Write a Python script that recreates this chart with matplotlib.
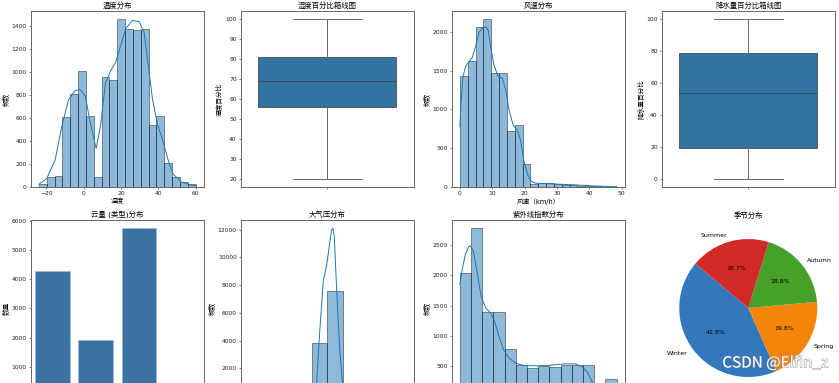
import numpy as np
import matplotlib
matplotlib.use('Agg')
import matplotlib.pyplot as plt
import matplotlib.patheffects as pe
from matplotlib.ticker import MultipleLocator

plt.rcParams['font.family'] = ['DejaVu Sans', 'Noto Sans CJK SC']

# 温度分布
temp_edges = np.linspace(-24, 60, 21)
temp_counts = [30, 90, 100, 610, 810, 1010, 620, 90, 960, 930,
               1460, 1380, 1370, 1380, 540, 620, 210, 90, 40, 30]
temp_kde_x = [-24, -19.8, -15.3, -11.7, -8.1, -4.5, -1.8, 0.9, 3.6, 6.7, 9.0,
              11.7, 14.4, 17.1, 19.8, 22.5, 26.1, 29.7, 32.4, 34.2, 36.9,
              39.6, 42.3, 45.0, 47.7, 52.3, 56.8, 60]
temp_kde_y = [23, 73, 234, 527, 762, 840, 850, 791, 556, 337, 527,
              908, 1010, 1084, 1230, 1377, 1450, 1441, 1347, 1113, 762,
              542, 410, 249, 117, 44, 20, 12]

# 湿度 / 降水量 箱线图
hum_stats = {'whislo': 20, 'q1': 56, 'med': 69, 'q3': 81, 'whishi': 100}
precip_stats = {'whislo': 0, 'q1': 19.5, 'med': 54, 'q3': 79, 'whishi': 100}

# 风速分布
wind_edges = np.linspace(0, 48.5, 21)
wind_counts = [1430, 1620, 2060, 2160, 1470, 1470, 720, 800, 300, 45,
               55, 50, 35, 30, 25, 17, 12, 8, 5, 3]
wind_kde_x = [0, 0.4, 1.0, 1.8, 2.8, 3.8, 4.9, 5.9, 6.9, 8.0, 8.8, 9.5, 10.5,
              11.8, 13.1, 14.2, 15.2, 16.5, 17.8, 18.8, 19.8, 20.9, 21.9,
              23.5, 27.1, 31.2, 36.4, 41.5, 48.5]
wind_kde_y = [774, 1120, 1426, 1556, 1610, 1665, 1817, 1990, 2043, 2065, 2013,
              1817, 1578, 1426, 1404, 1252, 991, 796, 730, 600, 339, 165, 78,
              48, 43, 35, 26, 13, 4]

# 云量
cloud_labels = ['partly cloudy', 'clear', 'overcast', 'cloudy']
cloud_counts = [4280, 1930, 5740, 420]
cloud_yticks = [1000, 2000, 3000, 4000, 5000, 6000]

# 大气压分布
press_edges = np.linspace(800, 1200, 11)
press_counts = [110, 120, 115, 125, 3820, 7570, 130, 120, 125, 115]
press_kde_x = [800, 880, 940, 965, 972.8, 981, 990, 998, 1005, 1011, 1014.5,
               1018, 1024, 1032, 1039, 1050, 1080, 1120, 1200]
press_kde_y = [60, 80, 150, 500, 900, 4740, 8370, 9340, 10790, 12000, 12100,
               11520, 7640, 3280, 900, 250, 100, 90, 60]
press_yticks = [2000, 4000, 6000, 8000, 10000, 12000]

# 紫外线指数分布
uv_edges = np.linspace(0, 14, 15)
uv_counts = [2040, 2780, 1400, 1390, 780, 520, 470, 490, 475, 510,
             515, 520, 200, 280]
uv_kde_x = [0, 0.21, 0.5, 0.8, 0.95, 1.2, 1.55, 1.9, 2.3, 2.74, 3.1, 3.5,
            3.9, 4.4, 5.0, 5.7, 6.9, 8.1, 9.3, 10.3, 10.9, 11.4, 11.8, 12.3,
            13.0, 14.0]
uv_kde_y = [1850, 2100, 2350, 2478, 2489, 2405, 2044, 1656, 1461, 1378, 1239,
            989, 767, 628, 544, 506, 500, 511, 533, 533, 489, 389, 239, 100,
            30, 10]
uv_yticks = [500, 1000, 1500, 2000, 2500]

# 季节分布
season_labels = ['Winter', 'Spring', 'Autumn', 'Summer']
season_sizes = [42.8, 19.8, 18.8, 18.7]
season_colors = ['#3378bd', '#f5840b', '#46a02a', '#d22a26']

W, H = 839, 383
fig = plt.figure(figsize=(W / 100, H / 100), dpi=100)

lefts = [31, 241, 452, 662]
aw, ah = 172.5, 176
tops = [11, 220]


def make_ax(row, col):
    ax = fig.add_axes([lefts[col] / W, (H - tops[row] - ah) / H, aw / W, ah / H])
    for s in ax.spines.values():
        s.set_color('#666666')
        s.set_linewidth(0.7)
    ax.tick_params(labelsize=4.3, length=1.6, width=0.4, pad=1.5, colors='#222222')
    # the lower row runs past the bottom edge of the picture
    if row == 1:
        ax.tick_params(labelbottom=False)
    return ax


def style_text(ax, title, xlabel='', ylabel=''):
    ax.set_title(title, fontsize=5.3, pad=2.5)
    ax.set_xlabel(xlabel, fontsize=4.8, labelpad=1.5)
    ax.set_ylabel(ylabel, fontsize=4.8, labelpad=1.5)


def hist_kde(ax, edges, counts, kx, ky):
    ax.hist(edges[:-1], bins=edges, weights=counts,
            color=(0.122, 0.467, 0.706, 0.5), edgecolor=(0, 0, 0, 0.5), linewidth=0.6)
    ax.plot(kx, ky, color='#1f77b4', linewidth=0.7)


def box(ax, stats):
    ax.bxp([stats], positions=[0], widths=[0.8], capwidths=[0.4],
           showfliers=False, patch_artist=True,
           boxprops=dict(facecolor='#3274a1', edgecolor='#5a5a5a', linewidth=0.7),
           whiskerprops=dict(color='#6a6a6a', linewidth=0.7),
           capprops=dict(color='#6a6a6a', linewidth=0.7),
           medianprops=dict(color='#3b4a58', linewidth=0.7))
    ax.set_xlim(-0.5, 0.5)
    ax.set_xticks([0], [''])


# row 1
ax = make_ax(0, 0)
hist_kde(ax, temp_edges, temp_counts, temp_kde_x, temp_kde_y)
ax.xaxis.set_major_locator(MultipleLocator(20))
ax.yaxis.set_major_locator(MultipleLocator(200))
style_text(ax, '温度分布', '温度', '频数')

ax = make_ax(0, 1)
box(ax, hum_stats)
ax.yaxis.set_major_locator(MultipleLocator(10))
style_text(ax, '湿度百分比箱线图', '', '湿度百分比')

ax = make_ax(0, 2)
hist_kde(ax, wind_edges, wind_counts, wind_kde_x, wind_kde_y)
ax.xaxis.set_major_locator(MultipleLocator(10))
ax.yaxis.set_major_locator(MultipleLocator(500))
style_text(ax, '风速分布', '风速（km/h）', '频数')

ax = make_ax(0, 3)
box(ax, precip_stats)
ax.yaxis.set_major_locator(MultipleLocator(20))
style_text(ax, '降水量百分比箱线图', '', '降水量百分比')

# row 2
ax = make_ax(1, 0)
ax.bar(range(len(cloud_counts)), cloud_counts, width=0.8, color='#3a73a3',
       edgecolor='#9db7cf', linewidth=0.4)
ax.set_xticks(range(len(cloud_labels)), cloud_labels)
ax.set_xlim(-0.5, 3.5)
ax.set_yticks(cloud_yticks)
style_text(ax, '云量 (类型)分布', '', '数量')

ax = make_ax(1, 1)
hist_kde(ax, press_edges, press_counts, press_kde_x, press_kde_y)
ax.set_yticks(press_yticks)
style_text(ax, '大气压分布', '', '频数')

ax = make_ax(1, 2)
hist_kde(ax, uv_edges, uv_counts, uv_kde_x, uv_kde_y)
ax.set_yticks(uv_yticks)
style_text(ax, '紫外线指数分布', '', '频数')

ax = make_ax(1, 3)
ax.pie(season_sizes, labels=season_labels, colors=season_colors,
       autopct='%1.1f%%', startangle=140,
       textprops=dict(fontsize=4.5))
ax.set_title('季节分布', fontsize=5.3, pad=2.5)

fig.text(0.987, 0.03, 'CSDN @Elfin_z', ha='right', va='bottom', fontsize=11,
         color='white', family=['Noto Sans CJK SC'], weight='light',
         path_effects=[pe.withStroke(linewidth=0.6, foreground='#8a8a8a')])

fig.savefig('out.png', dpi=100)
